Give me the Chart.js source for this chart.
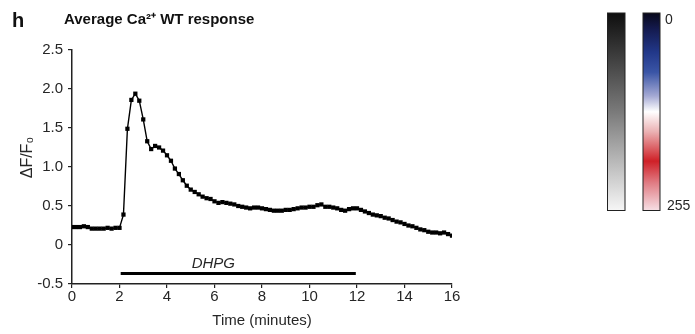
<!DOCTYPE html>
<html>
<head>
<meta charset="utf-8">
<script src="https://cdn.jsdelivr.net/npm/chart.js@4.4.0/dist/chart.umd.min.js"></script>
<style>
  html, body { margin: 0; padding: 0; background: #fff; }
  #wrap { position: relative; width: 695px; height: 334px; }
</style>
</head>
<body>
<div id="wrap"><canvas id="avgResponse"></canvas></div>
<script>
'use strict';

// sample times (seconds), one frame every 10 s
const timeSeconds = [
  0, 10, 20, 30, 40, 50, 60, 70, 80, 90, 100, 110, 120, 130, 140, 150,
  160, 170, 180, 190, 200, 210, 220, 230, 240, 250, 260, 270, 280, 290, 300, 310,
  320, 330, 340, 350, 360, 370, 380, 390, 400, 410, 420, 430, 440, 450, 460, 470,
  480, 490, 500, 510, 520, 530, 540, 550, 560, 570, 580, 590, 600, 610, 620, 630,
  640, 650, 660, 670, 680, 690, 700, 710, 720, 730, 740, 750, 760, 770, 780, 790,
  800, 810, 820, 830, 840, 850, 860, 870, 880, 890, 900, 910, 920, 930, 940, 950,
  960
];

// average dF/F0
const dff = [
  0.23, 0.23, 0.23, 0.24, 0.23, 0.21, 0.21, 0.21, 0.21, 0.22, 0.21, 0.22, 0.22,
  0.39, 1.49, 1.86, 1.94, 1.85, 1.61, 1.33, 1.23, 1.27, 1.25, 1.21, 1.15, 1.08,
  0.98, 0.91, 0.83, 0.76, 0.71, 0.68, 0.65, 0.62, 0.60, 0.59, 0.56, 0.54, 0.55,
  0.54, 0.53, 0.52, 0.50, 0.49, 0.48, 0.47, 0.48, 0.48, 0.47, 0.46, 0.45, 0.44,
  0.44, 0.44, 0.45, 0.45, 0.46, 0.47, 0.48, 0.48, 0.49, 0.49, 0.51, 0.52, 0.49,
  0.49, 0.48, 0.47, 0.45, 0.44, 0.46, 0.47, 0.47, 0.45, 0.43, 0.41, 0.39, 0.38,
  0.37, 0.35, 0.34, 0.32, 0.30, 0.29, 0.27, 0.25, 0.24, 0.22, 0.20, 0.19, 0.17,
  0.16, 0.16, 0.15, 0.16, 0.14, 0.12
];

// DHPG application (minutes) and where the bar / label sit
const dhpgWindow = [2.05, 11.95];
const dhpgBarLevel = -0.365;
const dhpgLabel = 'DHPG';
const dhpgLabelAt = [5.95, -0.295];

const xTicks = [0, 2, 4, 6, 8, 10, 12, 14, 16];
const yTicks = [-0.5, 0, 0.5, 1.0, 1.5, 2.0, 2.5];

const panelLetter = 'h';
const titleText = 'Average Ca\u00B2\u207A WT response';
const xTitle = 'Time (minutes)';
const yTitle = '\u0394F/F\u2080';
const colorbarLabels = ['0', '255'];

const FONT = '"Liberation Sans", Arial, Helvetica, sans-serif';
const INK = '#262626';

const tracePoints = timeSeconds.map((s, i) => ({ x: s / 60, y: dff[i] }));
const dhpgPoints = dhpgWindow.map(t => ({ x: t, y: dhpgBarLevel }));

// title, y title, stimulus label and the two lookup-table bars
const decorations = {
  id: 'decorations',
  afterDraw(chart) {
    const { ctx, scales: { x, y } } = chart;
    ctx.save();
    ctx.fillStyle = '#111';
    ctx.textAlign = 'left';
    ctx.textBaseline = 'alphabetic';
    ctx.font = 'bold 20px ' + FONT;
    ctx.fillText(panelLetter, 12, 26.5);
    ctx.font = 'bold 15px ' + FONT;
    ctx.fillText(titleText, 64, 24);

    // y axis title, sits a little above the middle of the axis
    ctx.save();
    ctx.translate(32, y.getPixelForValue(1.12));
    ctx.rotate(-Math.PI / 2);
    ctx.textAlign = 'center';
    ctx.fillStyle = INK;
    ctx.font = '16px ' + FONT;
    ctx.fillText(yTitle, 0, 0);
    ctx.restore();

    ctx.font = 'italic 15px ' + FONT;
    ctx.textAlign = 'center';
    ctx.fillStyle = INK;
    ctx.fillText(dhpgLabel, x.getPixelForValue(dhpgLabelAt[0]), y.getPixelForValue(dhpgLabelAt[1]));

    const top = 13, bottom = 210.5, h = bottom - top;
    const gray = ctx.createLinearGradient(0, top, 0, bottom);
    gray.addColorStop(0, '#0e0e0e');
    gray.addColorStop(0.5, '#7a7a7a');
    gray.addColorStop(1, '#f6f6f6');
    ctx.fillStyle = gray;
    ctx.fillRect(607.5, top, 17.5, h);

    const bwr = ctx.createLinearGradient(0, top, 0, bottom);
    bwr.addColorStop(0, '#08081a');
    bwr.addColorStop(0.08, '#141a4e');
    bwr.addColorStop(0.2, '#22388a');
    bwr.addColorStop(0.3, '#3a55a6');
    bwr.addColorStop(0.42, '#a4a9d4');
    bwr.addColorStop(0.5, '#ffffff');
    bwr.addColorStop(0.6, '#ebb2b4');
    bwr.addColorStop(0.75, '#cf2027');
    bwr.addColorStop(0.86, '#e07c84');
    bwr.addColorStop(1, '#f6dfe4');
    ctx.fillStyle = bwr;
    ctx.fillRect(643, top, 17, h);

    ctx.strokeStyle = '#222';
    ctx.lineWidth = 1;
    ctx.strokeRect(607.5, top, 17.5, h);
    ctx.strokeRect(643, top, 17, h);

    ctx.fillStyle = INK;
    ctx.textAlign = 'left';
    ctx.font = '14px ' + FONT;
    ctx.fillText(colorbarLabels[0], 665, 24);
    ctx.fillText(colorbarLabels[1], 667, 210);
    ctx.restore();
  }
};

const ctx = document.getElementById('avgResponse');

new Chart(ctx, {
  type: 'line',
  data: {
    datasets: [{
      label: 'WT',
      data: tracePoints,
      borderColor: '#000',
      backgroundColor: '#000',
      borderWidth: 1.4,
      pointStyle: 'rect',
      pointRadius: 3,
      pointBorderWidth: 0,
      tension: 0,
      fill: false
    }, {
      label: dhpgLabel,
      data: dhpgPoints,
      borderColor: '#000',
      borderWidth: 3,
      pointRadius: 0,
      fill: false
    }]
  },
  options: {
    responsive: true,
    maintainAspectRatio: false,
    devicePixelRatio: 1,
    animation: false,
    layout: { padding: { top: 50, right: 243, left: 0, bottom: 0 } },
    plugins: {
      legend: { display: false },
      tooltip: { enabled: false }
    },
    scales: {
      x: {
        type: 'linear',
        min: 0,
        max: 16,
        afterBuildTicks: s => { s.ticks = xTicks.map(v => ({ value: v })); },
        afterFit: s => { s.height = 50; },
        grid: { drawOnChartArea: false, drawTicks: true, tickLength: 4, color: '#222', lineWidth: 1.2 },
        border: { display: true, color: '#222', width: 1.5 },
        ticks: { color: INK, font: { family: FONT, size: 15 }, padding: 0, maxRotation: 0 },
        title: { display: true, text: xTitle, color: INK, font: { family: FONT, size: 15 }, padding: { top: 0, bottom: 4 } }
      },
      y: {
        min: -0.5,
        max: 2.5,
        afterBuildTicks: s => { s.ticks = yTicks.map(v => ({ value: v })); },
        afterFit: s => { s.width = 72; },
        grid: { drawOnChartArea: false, drawTicks: true, tickLength: 4, color: '#222', lineWidth: 1.2 },
        border: { display: true, color: '#222', width: 1.5 },
        ticks: {
          color: INK,
          font: { family: FONT, size: 15 },
          padding: 5,
          callback: v => (v === 0 ? '0' : v.toFixed(1))
        }
      }
    }
  },
  plugins: [decorations]
});
</script>
</body>
</html>
